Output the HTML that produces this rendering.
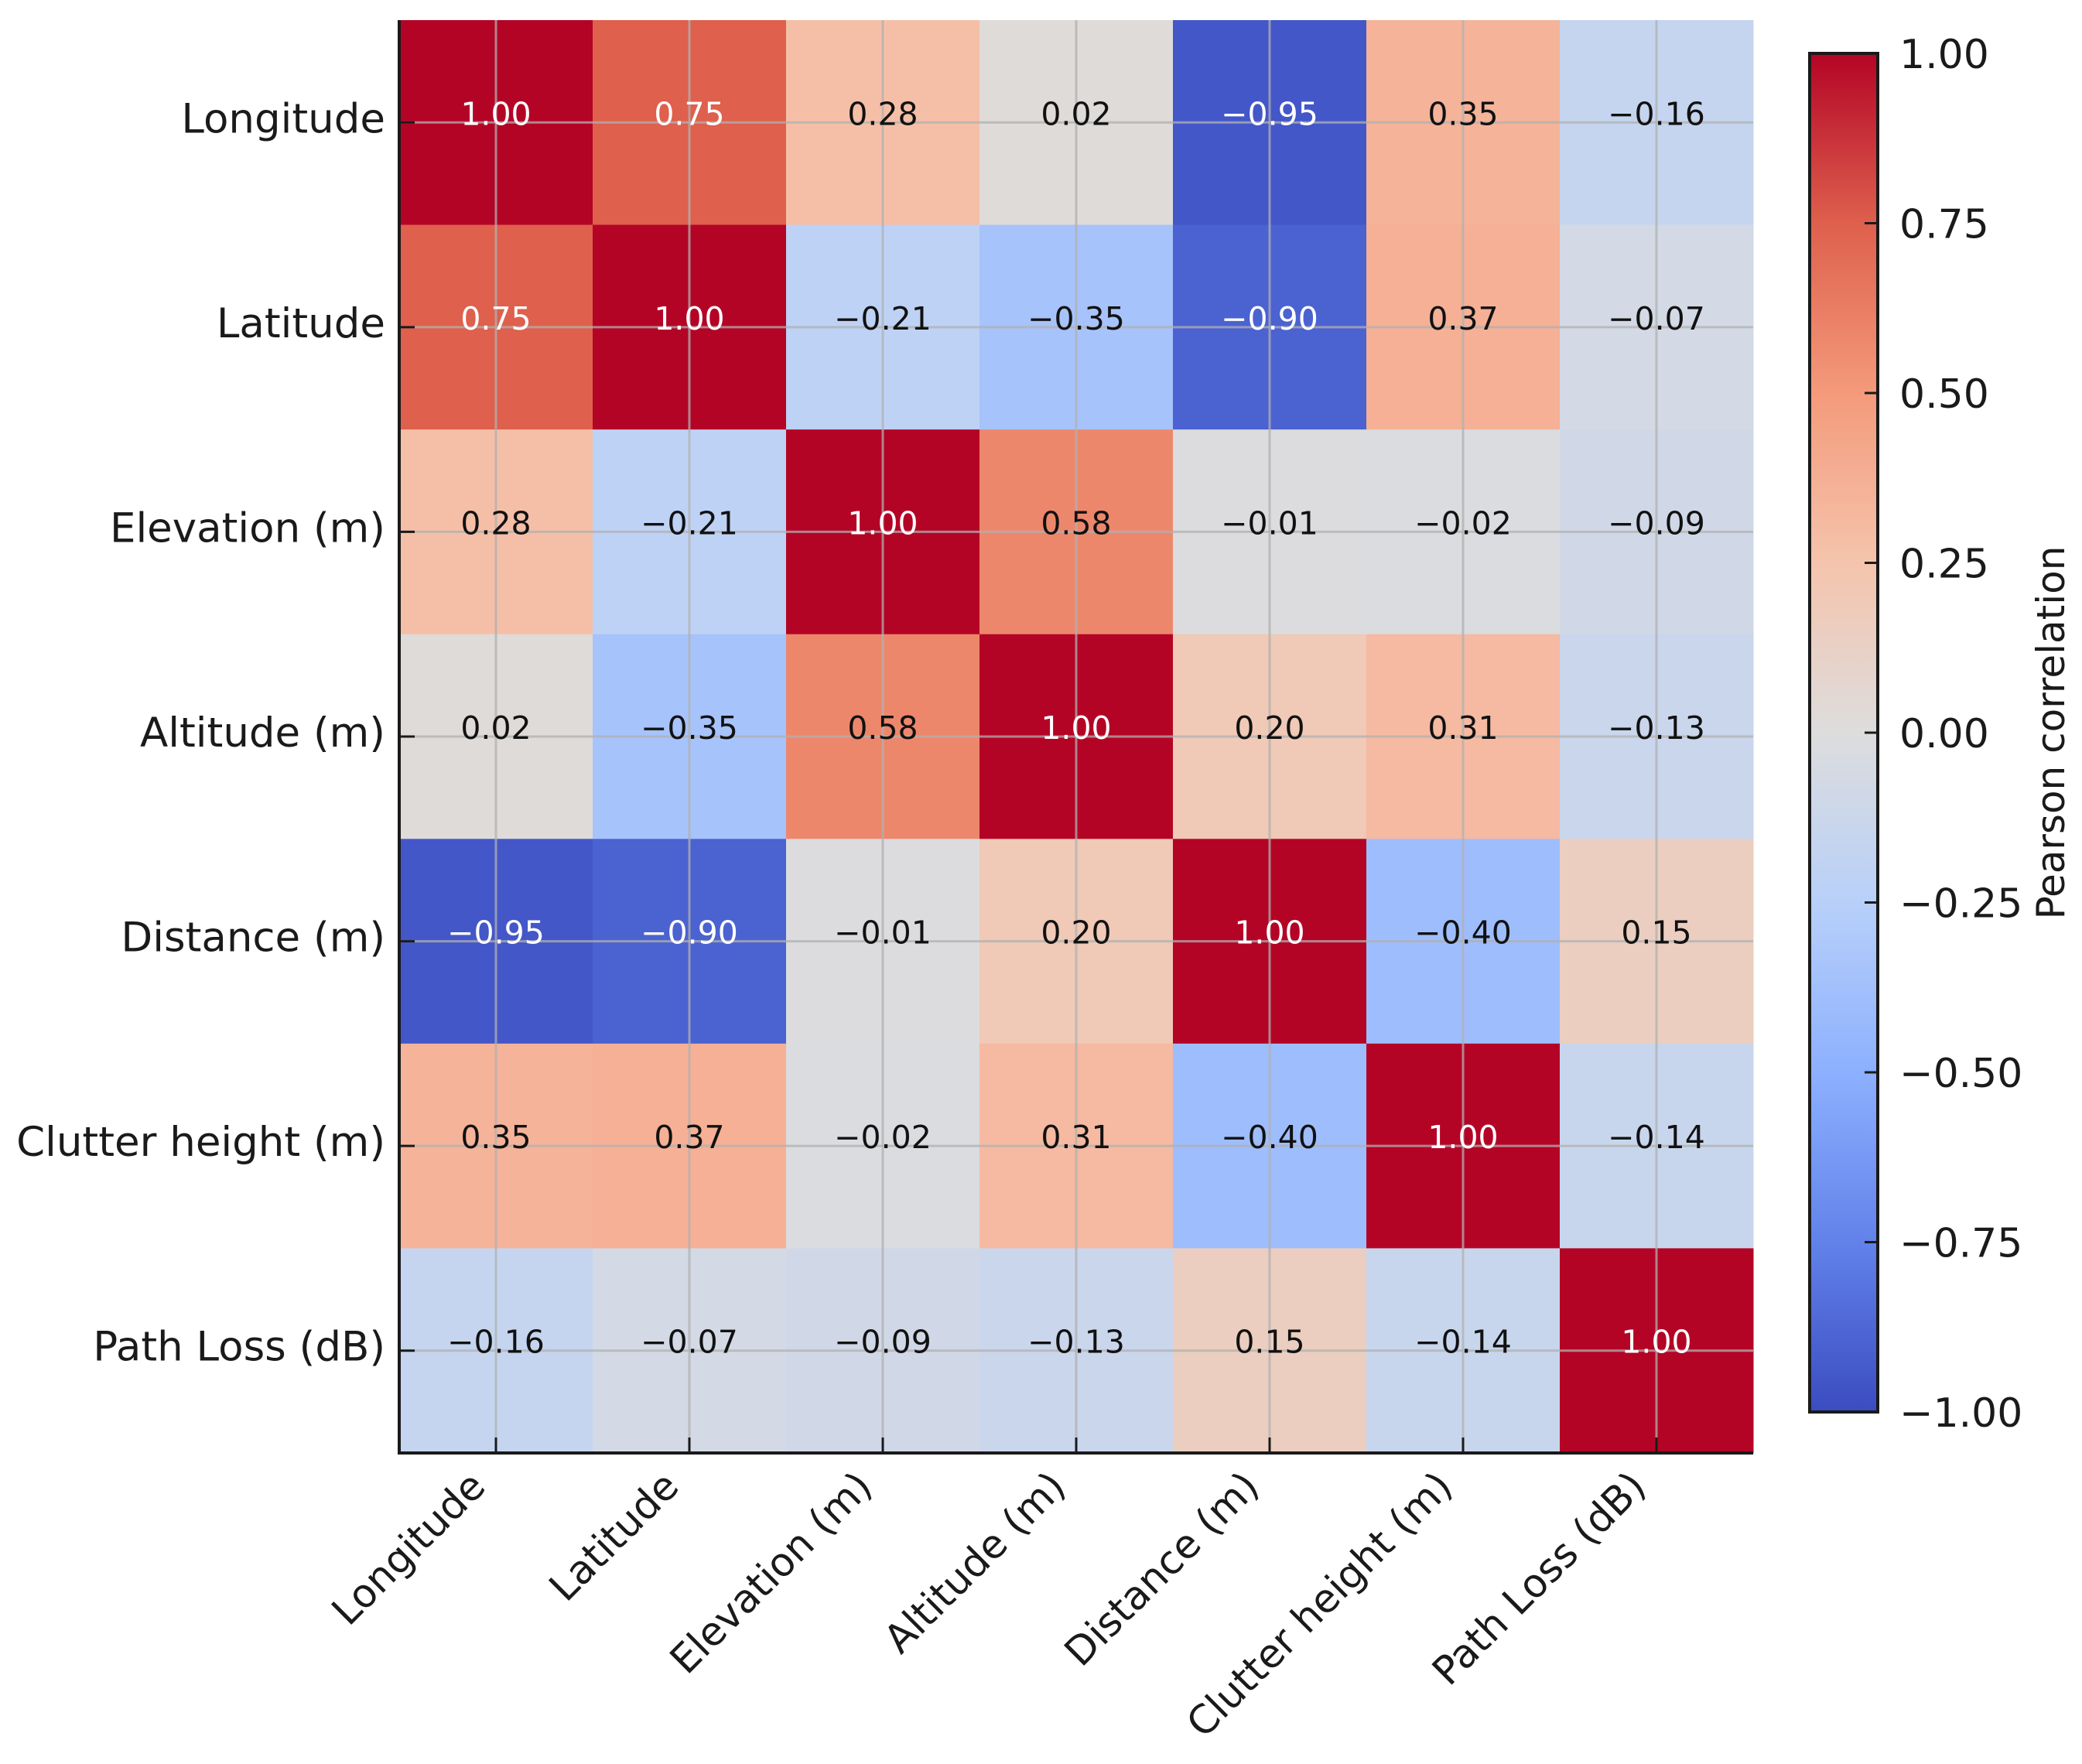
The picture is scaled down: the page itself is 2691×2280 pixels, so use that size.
<!DOCTYPE html>
<html><head><meta charset="utf-8"><style>
html,body{margin:0;padding:0;background:#fff;}
svg{display:block;font-family:"DejaVu Sans","Liberation Sans",sans-serif;}
</style></head><body>
<svg id="chart" width="2691" height="2280" viewBox="0 0 2691 2280" xmlns="http://www.w3.org/2000/svg">
<defs>
<linearGradient id="cbgrad" x1="0" y1="1" x2="0" y2="0">
<stop offset="0" stop-color="rgb(59,76,192)"/><stop offset="0.125" stop-color="rgb(98,130,234)"/>
<stop offset="0.25" stop-color="rgb(141,176,254)"/><stop offset="0.375" stop-color="rgb(184,208,249)"/>
<stop offset="0.5" stop-color="rgb(221,221,221)"/><stop offset="0.625" stop-color="rgb(245,196,173)"/>
<stop offset="0.75" stop-color="rgb(244,154,123)"/><stop offset="0.875" stop-color="rgb(222,96,77)"/>
<stop offset="1" stop-color="rgb(180,4,38)"/>
</linearGradient>
</defs>
<g id="cells"></g><g id="grid"></g><g id="annot"></g><g id="axes"></g><g id="cbar"></g>
</svg>
<script>
const categories = ["Longitude","Latitude","Elevation (m)","Altitude (m)","Distance (m)","Clutter height (m)","Path Loss (dB)"];
const row0 = [1.00, 0.75, 0.28, 0.02, -0.95, 0.35, -0.16];
const row1 = [0.75, 1.00, -0.21, -0.35, -0.90, 0.37, -0.07];
const row2 = [0.28, -0.21, 1.00, 0.58, -0.01, -0.02, -0.09];
const row3 = [0.02, -0.35, 0.58, 1.00, 0.20, 0.31, -0.13];
const row4 = [-0.95, -0.90, -0.01, 0.20, 1.00, -0.40, 0.15];
const row5 = [0.35, 0.37, -0.02, 0.31, -0.40, 1.00, -0.14];
const row6 = [-0.16, -0.07, -0.09, -0.13, 0.15, -0.14, 1.00];
const matrix = [row0,row1,row2,row3,row4,row5,row6];
const cbTicks = [1.00, 0.75, 0.50, 0.25, 0.00, -0.25, -0.50, -0.75, -1.00];
const vmin = -1, vmax = 1;

const NS="http://www.w3.org/2000/svg";
const L=516,T=26,R=2266,B=1878;
const n=categories.length, cw=(R-L)/n, ch=(B-T)/n;
const xPos=i=>L+cw*(i+0.5), yPos=i=>T+ch*(i+0.5);
const CBL=2339,CBR=2427,CBT=69,CBB=1825;
const cbY=v=>CBB-(v-vmin)/(vmax-vmin)*(CBB-CBT);
const stops=[[59,76,192],[98,130,234],[141,176,254],[184,208,249],[221,221,221],[245,196,173],[244,154,123],[222,96,77],[180,4,38]];
function cmap(v){let t=(v-vmin)/(vmax-vmin);t=Math.max(0,Math.min(1,t))*8;let i=Math.min(7,Math.floor(t)),f=t-i;
const a=stops[i],b=stops[i+1];return `rgb(${a.map((c,k)=>Math.round(c+(b[k]-c)*f)).join(',')})`;}
function mk(tag,attrs,parent){const e=document.createElementNS(NS,tag);for(const k in attrs)e.setAttribute(k,attrs[k]);parent.appendChild(e);return e;}
const fmt=v=>(v<0?"\u2212":"")+Math.abs(v).toFixed(2);
const gC=document.getElementById('cells'),gG=document.getElementById('grid'),gA=document.getElementById('annot'),gX=document.getElementById('axes'),gB=document.getElementById('cbar');
matrix.forEach((row,r)=>row.forEach((v,c)=>{
  const rect=mk('rect',{x:L+c*cw,y:T+r*ch,width:cw+0.5,height:ch+0.5,fill:cmap(v)},gC);
  
  
  const t=mk('text',{x:xPos(c),y:yPos(r)+3,'text-anchor':'middle','font-size':41,fill:Math.abs(v)>=0.7?'#fff':'#111'},gA);
  t.textContent=fmt(v);
  
  
}));
for(let i=0;i<n;i++){
  const gv=mk('line',{x1:xPos(i),x2:xPos(i),y1:T,y2:B,stroke:'#b0b0b0','stroke-opacity':0.75,'stroke-width':3},gG);
  
  
  const gh=mk('line',{x1:L,x2:R,y1:yPos(i),y2:yPos(i),stroke:'#b0b0b0','stroke-opacity':0.75,'stroke-width':3},gG);
  
  
  const tx=mk('line',{x1:xPos(i),x2:xPos(i),y1:B,y2:B-20,stroke:'#1a1a1a','stroke-width':3},gX);
  
  
  const ty=mk('line',{x1:L,x2:L+20,y1:yPos(i),y2:yPos(i),stroke:'#1a1a1a','stroke-width':3},gX);
  
  
  const yl=mk('text',{x:498,y:yPos(i)+13,'text-anchor':'end','font-size':53,fill:'#1a1a1a'},gX);
  yl.textContent=categories[i];
  
  
  const ax=xPos(i)-11, ay=1924;
  const xl=mk('text',{x:ax,y:ay,'text-anchor':'end','font-size':51,fill:'#1a1a1a',transform:`rotate(-45 ${ax} ${ay})`},gX);
  xl.textContent=categories[i];
  
  
}
const frame=mk('path',{d:`M${L},${T} L${L},${B} L${R},${B}`,fill:'none',stroke:'#1a1a1a','stroke-width':4},gX);


const cb=mk('rect',{x:CBL,y:CBT,width:CBR-CBL,height:CBB-CBT,fill:'url(#cbgrad)',stroke:'#1a1a1a','stroke-width':4},gB);


cbTicks.forEach(v=>{
  const y=cbY(v);
  const tk=mk('line',{x1:CBR,x2:CBR-17,y1:y,y2:y,stroke:'#1a1a1a','stroke-width':3},gB);
  
  
  const tl=mk('text',{x:2455,y:y+19,'font-size':52,fill:'#1a1a1a'},gB);
  tl.textContent=fmt(v);
  
  
});
const cbl=mk('text',{x:2668,y:(CBT+CBB)/2,'text-anchor':'middle','font-size':50,fill:'#1a1a1a',transform:`rotate(-90 2668 ${(CBT+CBB)/2})`},gB);
cbl.textContent='Pearson correlation';


</script>
</body></html>
